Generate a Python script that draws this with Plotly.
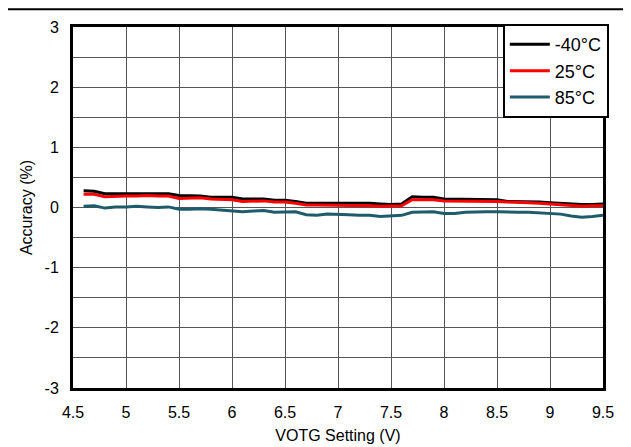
import plotly.graph_objects as go

vset = [round(4.6 + 0.1 * i, 1) for i in range(50)]

acc_m40 = [0.28, 0.27, 0.23, 0.23, 0.23, 0.24, 0.24, 0.23, 0.23, 0.20,
           0.20, 0.19, 0.17, 0.17, 0.17, 0.14, 0.14, 0.14, 0.12, 0.12,
           0.10, 0.07, 0.07, 0.07, 0.08, 0.08, 0.08, 0.07, 0.06, 0.05,
           0.06, 0.18, 0.17, 0.17, 0.14, 0.14, 0.14, 0.14, 0.13, 0.13,
           0.10, 0.10, 0.10, 0.09, 0.08, 0.07, 0.05, 0.05, 0.05, 0.06]

acc_25 = [0.22, 0.22, 0.18, 0.19, 0.19, 0.19, 0.20, 0.19, 0.19, 0.15,
          0.15, 0.16, 0.14, 0.13, 0.13, 0.10, 0.11, 0.11, 0.09, 0.09,
          0.07, 0.04, 0.04, 0.04, 0.04, 0.04, 0.04, 0.03, 0.02, 0.02,
          0.03, 0.13, 0.13, 0.13, 0.11, 0.11, 0.11, 0.11, 0.11, 0.10,
          0.09, 0.09, 0.08, 0.07, 0.06, 0.05, 0.03, 0.02, 0.03, 0.03]

acc_85 = [0.02, 0.03, -0.01, 0.01, 0.01, 0.02, 0.01, 0.00, 0.01, -0.03,
          -0.03, -0.02, -0.03, -0.04, -0.05, -0.07, -0.06, -0.05, -0.08, -0.08,
          -0.07, -0.12, -0.13, -0.11, -0.11, -0.12, -0.13, -0.13, -0.15, -0.14,
          -0.13, -0.08, -0.08, -0.07, -0.10, -0.10, -0.08, -0.07, -0.07, -0.07,
          -0.08, -0.08, -0.08, -0.09, -0.10, -0.11, -0.14, -0.16, -0.15, -0.13]

x_ticks = [4.5, 5, 5.5, 6, 6.5, 7, 7.5, 8, 8.5, 9, 9.5]
x_labels = ["4.5", "5", "5.5", "6", "6.5", "7", "7.5", "8", "8.5", "9", "9.5"]
y_ticks = [-3, -2, -1, 0, 1, 2, 3]
y_labels = ["-3", "-2", "-1", "0", "1", "2", "3"]

series = [("-40°C", acc_m40, "#000000"), ("25°C", acc_25, "#FF0000"), ("85°C", acc_85, "#1E5C6B")]

fig = go.Figure()
for name, ys, col in series:
    fig.add_trace(go.Scatter(x=vset, y=ys, mode="lines", name=name,
                             line=dict(color=col, width=3)))

font = "Liberation Sans, Arial, sans-serif"
fig.update_layout(
    width=631, height=447,
    margin=dict(l=65, r=36, t=19, b=67),
    paper_bgcolor="white", plot_bgcolor="white",
    font=dict(family=font, size=16, color="black"),
    showlegend=True,
    legend=dict(x=1.011, y=1.008, xanchor="right", yanchor="top",
                bordercolor="black", borderwidth=2, bgcolor="white",
                font=dict(size=18), itemwidth=40, tracegroupgap=0),
    xaxis=dict(range=[4.5, 9.5], tickvals=x_ticks, ticktext=x_labels, showgrid=True,
               gridcolor="#555555", gridwidth=1, showline=True, linecolor="black",
               linewidth=3, mirror=True, ticks="", zeroline=False, ticklabelstandoff=8,
               title=dict(text="VOTG Setting (V)", font=dict(size=16), standoff=10),
               tickfont=dict(size=16)),
    yaxis=dict(range=[-3, 3], tickvals=y_ticks, ticktext=y_labels, showgrid=True,
               gridcolor="#555555", gridwidth=1,
               minor=dict(dtick=0.5, showgrid=True, gridcolor="#555555", gridwidth=1),
               showline=True, linecolor="black", linewidth=3, mirror=True, ticks="",
               zeroline=False, ticklabelstandoff=8,
               title=dict(text="Accuracy (%)", font=dict(size=16), standoff=8),
               tickfont=dict(size=16)),
)
fig.add_shape(type="line", xref="paper", yref="paper", x0=-0.15, x1=1.1,
              y0=1.049, y1=1.049, line=dict(color="black", width=2))

fig.write_html("out.html")
